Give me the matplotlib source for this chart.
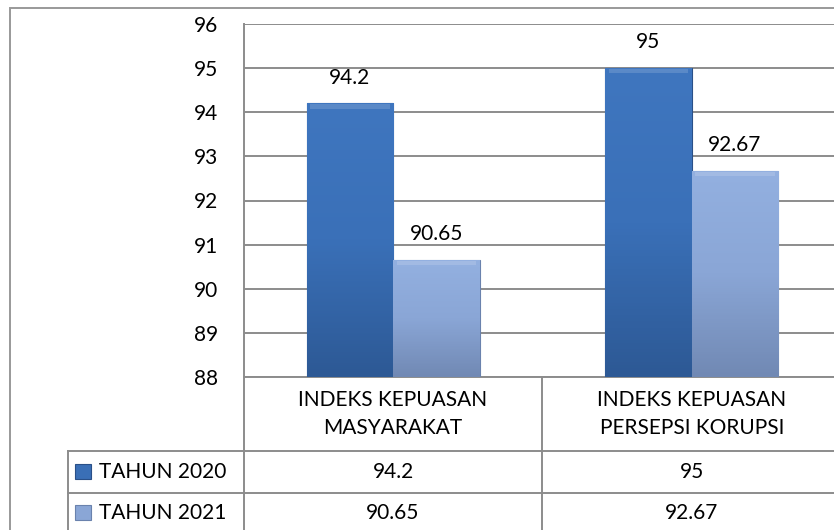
import numpy as np
import matplotlib.pyplot as plt
from matplotlib.lines import Line2D
from matplotlib.patches import Rectangle
from matplotlib.colors import LinearSegmentedColormap

# data
categories = ["INDEKS KEPUASAN\nMASYARAKAT", "INDEKS KEPUASAN\nPERSEPSI KORUPSI"]
series_names = ["TAHUN 2020", "TAHUN 2021"]
tahun_2020 = [94.2, 95]
tahun_2021 = [90.65, 92.67]
labels_2020 = ["94.2", "95"]
labels_2021 = ["90.65", "92.67"]
y_ticks = [88, 89, 90, 91, 92, 93, 94, 95, 96]

plt.rcParams['font.family'] = ['Lato', 'DejaVu Sans']
FS = 15
GRID = '#8c8c8c'

W, H = 834, 530
fig = plt.figure(figsize=(W / 100, H / 100), dpi=100)

def fx(px):
    return px / W

def fy(py):
    return 1 - py / H

# plot area (runs slightly past the right edge like the original)
ax = fig.add_axes([fx(244), fy(377), (841 - 244) / W, (377 - 24) / H])

x = np.arange(len(categories))
w = 0.29
bars_a = ax.bar(x - w / 2, tahun_2020, w, bottom=0, color='#3a6fb6',
                edgecolor='#2a5088', linewidth=0.8, zorder=3)
bars_b = ax.bar(x + w / 2, tahun_2021, w, bottom=0, color='#8aa6d6',
                edgecolor='#6a82ad', linewidth=0.8, zorder=3)

# gradient shading inside the bars
grad_dark = LinearSegmentedColormap.from_list('d', ['#2d5995', '#3a70b8', '#3f76bf'])
grad_light = LinearSegmentedColormap.from_list('l', ['#7189b4', '#8aa6d6', '#93b0e0'])
g = np.linspace(0, 1, 100).reshape(-1, 1)
for bars, cmap in [(bars_a, grad_dark), (bars_b, grad_light)]:
    for b in bars:
        x0, wd, top = b.get_x(), b.get_width(), b.get_height()
        im = ax.imshow(g, cmap=cmap, extent=(x0, x0 + wd, 88, top),
                       origin='lower', aspect='auto', zorder=3.5)
        im.set_clip_path(b)
        # bevel highlight along the top
        ax.add_patch(Rectangle((x0 + wd * 0.04, top - 0.12), wd * 0.92, 0.1,
                               facecolor='white', alpha=0.15, lw=0, zorder=4))

for b, lab in zip(bars_a, labels_2020):
    ax.text(b.get_x() + b.get_width() / 2, b.get_height() + 0.36, lab,
            ha='center', va='bottom', fontsize=FS, zorder=5)
for b, lab in zip(bars_b, labels_2021):
    ax.text(b.get_x() + b.get_width() / 2, b.get_height() + 0.36, lab,
            ha='center', va='bottom', fontsize=FS, zorder=5)

ax.set_xlim(-0.5, len(categories) - 0.5)
ax.set_ylim(88, 96)
ax.set_yticks(y_ticks)
ax.set_yticklabels([str(t) for t in y_ticks], fontsize=FS)
ax.tick_params(axis='y', length=0, pad=18.5)
ax.set_xticks([])
ax.grid(axis='y', color=GRID, linewidth=1.4, zorder=0)
for s in ['top', 'right']:
    ax.spines[s].set_visible(False)
ax.spines['left'].set_color(GRID)
ax.spines['left'].set_linewidth(1.4)
ax.spines['bottom'].set_color(GRID)
ax.spines['bottom'].set_linewidth(1.4)

# outer frame
fig.add_artist(Rectangle((fx(10), fy(540)), fx(900), (540 - 8) / H,
                         transform=fig.transFigure, fill=False,
                         edgecolor='#999999', linewidth=1.4))

# data table under the chart
def hline(y, x0, x1):
    fig.add_artist(Line2D([fx(x0), fx(x1)], [fy(y), fy(y)], transform=fig.transFigure,
                          color=GRID, linewidth=1.4))

def vline(xp, y0, y1):
    fig.add_artist(Line2D([fx(xp), fx(xp)], [fy(y0), fy(y1)], transform=fig.transFigure,
                          color=GRID, linewidth=1.4))

hline(451, 68, 850)
hline(493, 68, 850)
vline(68, 451, 540)
vline(244, 377, 540)
vline(542, 377, 540)

cat_px = [393, 692]
for cx, cat in zip(cat_px, categories):
    fig.text(fx(cx), fy(414), cat, ha='center', va='center', fontsize=FS,
             linespacing=1.5)

row_y = [472, 513]
row_vals = [labels_2020, labels_2021]
swatch = [('#3a6fb6', '#2a5088'), ('#8aa6d6', '#6a82ad')]
for ry, name, vals, (fc, ec) in zip(row_y, series_names, row_vals, swatch):
    fig.add_artist(Rectangle((fx(75), fy(ry + 7)), fx(16), 15 / H,
                             transform=fig.transFigure, facecolor=fc,
                             edgecolor=ec, linewidth=0.8))
    fig.text(fx(99), fy(ry), name, ha='left', va='center', fontsize=FS)
    for cx, v in zip(cat_px, vals):
        fig.text(fx(cx), fy(ry), v, ha='center', va='center', fontsize=FS)

fig.savefig('out.png', dpi=100)
